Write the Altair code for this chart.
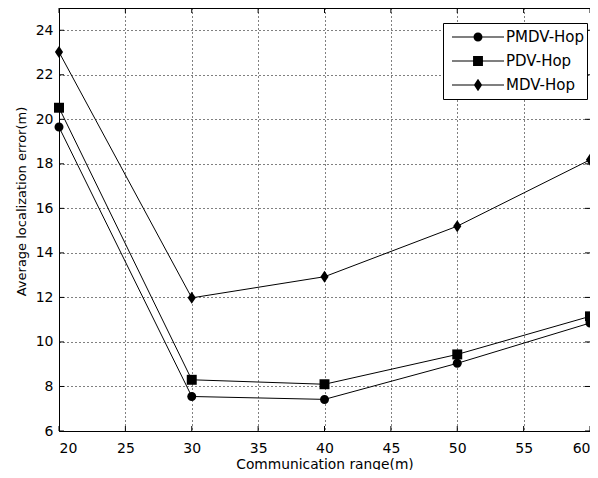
import altair as alt
import pandas as pd

# ---- data ----
ranges = [20, 30, 40, 50, 60]
pmdv = [19.65, 7.55, 7.42, 9.04, 10.85]
pdv = [20.52, 8.30, 8.10, 9.44, 11.15]
mdv = [23.02, 11.98, 12.93, 15.20, 18.18]
series = ["PMDV-Hop", "PDV-Hop", "MDV-Hop"]
x_ticks = [20, 25, 30, 35, 40, 45, 50, 55, 60]
y_ticks = [6, 8, 10, 12, 14, 16, 18, 20, 22, 24]

rows = []
for name, vals in zip(series, [pmdv, pdv, mdv]):
    for r, v in zip(ranges, vals):
        rows.append({"range": r, "error": v, "method": name})
df = pd.DataFrame(rows)

W, H = 531, 423
FONT = "DejaVu Sans"

xs = alt.Scale(domain=[20, 60], nice=False, zero=False)
ys = alt.Scale(domain=[6, 25], nice=False, zero=False)

marker_paths = [
    "M-0.75,0A0.75,0.75 0 1,1 0.75,0A0.75,0.75 0 1,1 -0.75,0Z",
    "M-0.83,-0.83H0.83V0.83H-0.83Z",
    "M0,-1L0.68,0L0,1L-0.68,0Z",
]
# legend symbols: thin filled bar (the line) plus the marker in its middle
legend_paths = [
    "M-1,-0.02H1V0.02H-1Z M-0.173,0A0.173,0.173 0 1,1 0.173,0A0.173,0.173 0 1,1 -0.173,0Z",
    "M-1,-0.02H1V0.02H-1Z M-0.19,-0.19H0.19V0.19H-0.19Z",
    "M-1,-0.02H1V0.02H-1Z M0,-0.24L0.16,0L0,0.24L-0.16,0Z",
]

x_axis = alt.Axis(
    values=x_ticks, grid=True, gridDash=[1, 3], gridColor="#000000", gridOpacity=1,
    ticks=False, domain=False,
    labelFont=FONT, labelFontSize=14, labelColor="black", labelPadding=10,
    title="Communication range(m)", titleFont=FONT, titleFontSize=13.8,
    titleFontWeight="normal", titleColor="black", titleY=37, titleBaseline="alphabetic",
)
y_axis = alt.Axis(
    values=y_ticks, grid=True, gridDash=[1, 3], gridColor="#000000", gridOpacity=1,
    ticks=False, domain=False,
    labelFont=FONT, labelFontSize=14, labelColor="black", labelPadding=6,
    title="Average localization error(m)", titleFont=FONT, titleFontSize=13,
    titleFontWeight="normal", titleColor="black", titleX=-34, titleY=193,
    titleAngle=270, titleBaseline="alphabetic", titleAlign="center",
)

base = alt.Chart(df)

lines = base.mark_line(color="black", strokeWidth=1).encode(
    x=alt.X("range:Q", scale=xs, axis=x_axis),
    y=alt.Y("error:Q", scale=ys, axis=y_axis),
    detail="method:N",
)

markers = base.mark_point(filled=True, color="black", size=144, opacity=1).encode(
    x=alt.X("range:Q", scale=xs, axis=x_axis),
    y=alt.Y("error:Q", scale=ys, axis=y_axis),
    shape=alt.Shape("method:N", scale=alt.Scale(domain=series, range=marker_paths), legend=None),
)

legend_layer = base.mark_point(filled=True, color="black", size=1, opacity=0).encode(
    x=alt.X("range:Q", scale=xs, axis=x_axis),
    y=alt.Y("error:Q", scale=ys, axis=y_axis),
    shape=alt.Shape(
        "method:N",
        scale=alt.Scale(domain=series, range=legend_paths),
        legend=alt.Legend(
            title=None, orient="none", legendX=384, legendY=15,
            padding=2, symbolOffset=7, clipHeight=24, rowPadding=0,
            symbolSize=2704, symbolOpacity=1, symbolFillColor="black",
            symbolStrokeColor="black", symbolStrokeWidth=0,
            labelFont=FONT, labelFontSize=15, labelColor="black", labelOffset=2,
            strokeColor="black", fillColor="white", cornerRadius=0,
        ),
    ),
)

xt = pd.DataFrame({"t": x_ticks})
yt = pd.DataFrame({"t": y_ticks})
tick_bottom = alt.Chart(xt).mark_rule(color="black", strokeWidth=1).encode(
    x=alt.X("t:Q", scale=xs, axis=x_axis), y=alt.value(H), y2=alt.value(H - 5))
tick_top = alt.Chart(xt).mark_rule(color="black", strokeWidth=1).encode(
    x=alt.X("t:Q", scale=xs, axis=x_axis), y=alt.value(0), y2=alt.value(5))
tick_left = alt.Chart(yt).mark_rule(color="black", strokeWidth=1).encode(
    y=alt.Y("t:Q", scale=ys, axis=y_axis), x=alt.value(0), x2=alt.value(5))
tick_right = alt.Chart(yt).mark_rule(color="black", strokeWidth=1).encode(
    y=alt.Y("t:Q", scale=ys, axis=y_axis), x=alt.value(W), x2=alt.value(W - 5))

chart = (
    alt.layer(lines, tick_bottom, tick_top, tick_left, tick_right, markers, legend_layer)
    .resolve_scale(shape="independent")
    .properties(
        width=W, height=H,
        autosize=alt.AutoSizeParams(type="none"),
        padding={"left": 51, "top": 0, "right": 0, "bottom": 39},
        background="white",
    )
    .configure_view(stroke="black", strokeWidth=1)
)

chart.save("out.html", embed_options={"renderer": "svg", "actions": False})
